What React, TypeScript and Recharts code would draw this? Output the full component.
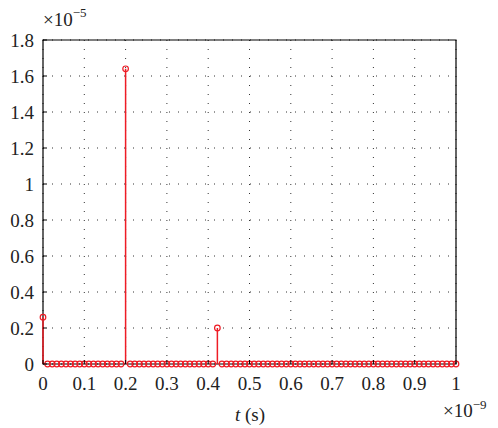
import React from "react";
import {
  ComposedChart,
  Scatter,
  XAxis,
  YAxis,
  CartesianGrid,
  ReferenceLine,
  ReferenceArea,
} from "recharts";

// Sampled amplitude (×10^-5), one value per sample, 91 samples over 0..1 ns
const AMPLITUDE = [
  0.26, 0, 0, 0, 0, 0, 0, 0, 0, 0,
  0, 0, 0, 0, 0, 0, 0, 0, 1.64, 0,
  0, 0, 0, 0, 0, 0, 0, 0, 0, 0,
  0, 0, 0, 0, 0, 0, 0, 0, 0.2, 0,
  0, 0, 0, 0, 0, 0, 0, 0, 0, 0,
  0, 0, 0, 0, 0, 0, 0, 0, 0, 0,
  0, 0, 0, 0, 0, 0, 0, 0, 0, 0,
  0, 0, 0, 0, 0, 0, 0, 0, 0, 0,
  0, 0, 0, 0, 0, 0, 0, 0, 0, 0,
  0,
];
// Sample spacing in units of 10^-9 s
const SAMPLE_PERIOD = 1 / 90;

const X_TICKS = [0, 0.1, 0.2, 0.3, 0.4, 0.5, 0.6, 0.7, 0.8, 0.9, 1];
const X_TICK_LABELS = ["0", "0.1", "0.2", "0.3", "0.4", "0.5", "0.6", "0.7", "0.8", "0.9", "1"];
const Y_TICKS = [0, 0.2, 0.4, 0.6, 0.8, 1, 1.2, 1.4, 1.6, 1.8];
const Y_TICK_LABELS = ["0", "0.2", "0.4", "0.6", "0.8", "1", "1.2", "1.4", "1.6", "1.8"];

const data = AMPLITUDE.map((amp, i) => ({ t: i * SAMPLE_PERIOD, amp }));

const RED = "#ee1c25";
const FONT = "'Liberation Serif', 'Times New Roman', 'DejaVu Serif', serif";
const TICK_FONT_SIZE = 19;
const TICK_LEN = 4;
const textStyle: React.CSSProperties = { fontFamily: FONT, fontSize: TICK_FONT_SIZE, fill: "#222" };

const W = 498;
const H = 428;

const BottomTick = (props: any) => {
  const { x, y, payload } = props;
  return (
    <g>
      <line x1={x} y1={y} x2={x} y2={y - TICK_LEN} stroke="#000" strokeWidth={1} />
      <text x={x} y={y + 26} textAnchor="middle" style={textStyle}>
        {X_TICK_LABELS[X_TICKS.indexOf(payload.value)] ?? payload.value}
      </text>
    </g>
  );
};

const TopTick = (props: any) => {
  const { x, y } = props;
  return <line x1={x} y1={y} x2={x} y2={y + TICK_LEN} stroke="#000" strokeWidth={1} />;
};

const LeftTick = (props: any) => {
  const { x, y, payload } = props;
  return (
    <g>
      <line x1={x} y1={y} x2={x + TICK_LEN} y2={y} stroke="#000" strokeWidth={1} />
      <text x={x - 9} y={y + 7} textAnchor="end" style={textStyle}>
        {Y_TICK_LABELS[Y_TICKS.indexOf(payload.value)] ?? payload.value}
      </text>
    </g>
  );
};

const RightTick = (props: any) => {
  const { x, y } = props;
  return <line x1={x} y1={y} x2={x - TICK_LEN} y2={y} stroke="#000" strokeWidth={1} />;
};

const StemHead = (props: any) => {
  const { cx, cy } = props;
  return <circle cx={cx} cy={cy} r={2.8} fill="none" stroke={RED} strokeWidth={1.2} />;
};

export default function App() {
  return (
    <div style={{ position: "absolute", left: 0, top: 0, width: W, height: H, background: "#fff" }}>
      <ComposedChart
        width={W}
        height={H}
        data={data}
        margin={{ top: 40, right: 42, bottom: 34, left: 0 }}
      >
        <CartesianGrid
          stroke="#333"
          strokeDasharray="1 8"
          strokeWidth={1}
          xAxisId="b"
          yAxisId="l"
        />
        <XAxis
          xAxisId="b"
          dataKey="t"
          type="number"
          domain={[0, 1]}
          ticks={X_TICKS}
          height={30}
          tickSize={0}
          tickMargin={0}
          axisLine={false}
          tick={<BottomTick />}
          interval={0}
        />
        <XAxis
          xAxisId="top"
          orientation="top"
          type="number"
          domain={[0, 1]}
          ticks={X_TICKS}
          height={0}
          tickSize={0}
          tickMargin={0}
          axisLine={false}
          tick={<TopTick />}
          interval={0}
        />
        <YAxis
          yAxisId="l"
          type="number"
          domain={[0, 1.8]}
          ticks={Y_TICKS}
          width={43}
          tickSize={0}
          tickMargin={0}
          axisLine={false}
          tick={<LeftTick />}
          interval={0}
        />
        <YAxis
          yAxisId="r"
          orientation="right"
          type="number"
          domain={[0, 1.8]}
          ticks={Y_TICKS}
          width={0}
          tickSize={0}
          tickMargin={0}
          axisLine={false}
          tick={<RightTick />}
          interval={0}
        />
        <ReferenceArea
          xAxisId="b"
          yAxisId="l"
          x1={0}
          x2={1}
          y1={0}
          y2={1.8}
          fill="none"
          stroke="#000"
          strokeWidth={1.2}
        />
        {data
          .filter((d) => d.amp !== 0)
          .map((d) => (
            <ReferenceLine
              key={d.t}
              xAxisId="b"
              yAxisId="l"
              segment={[
                { x: d.t, y: 0 },
                { x: d.t, y: d.amp },
              ]}
              stroke={RED}
              strokeWidth={1.5}
            />
          ))}
        <Scatter
          xAxisId="b"
          yAxisId="l"
          dataKey="amp"
          shape={<StemHead />}
          isAnimationActive={false}
        />
      </ComposedChart>
      <svg
        width={W}
        height={H}
        style={{ position: "absolute", left: 0, top: 0, pointerEvents: "none" }}
      >
        <text x={43} y={26} style={textStyle}>
          ×10
          <tspan dy={-9} style={{ fontSize: 13 }}>−5</tspan>
        </text>
        <text x={443} y={417} style={textStyle}>
          ×10
          <tspan dy={-8} style={{ fontSize: 13 }}>−9</tspan>
        </text>
        <text x={250} y={421} textAnchor="middle" style={textStyle}>
          <tspan fontStyle="italic">t</tspan>
          <tspan> (s)</tspan>
        </text>
      </svg>
    </div>
  );
}
